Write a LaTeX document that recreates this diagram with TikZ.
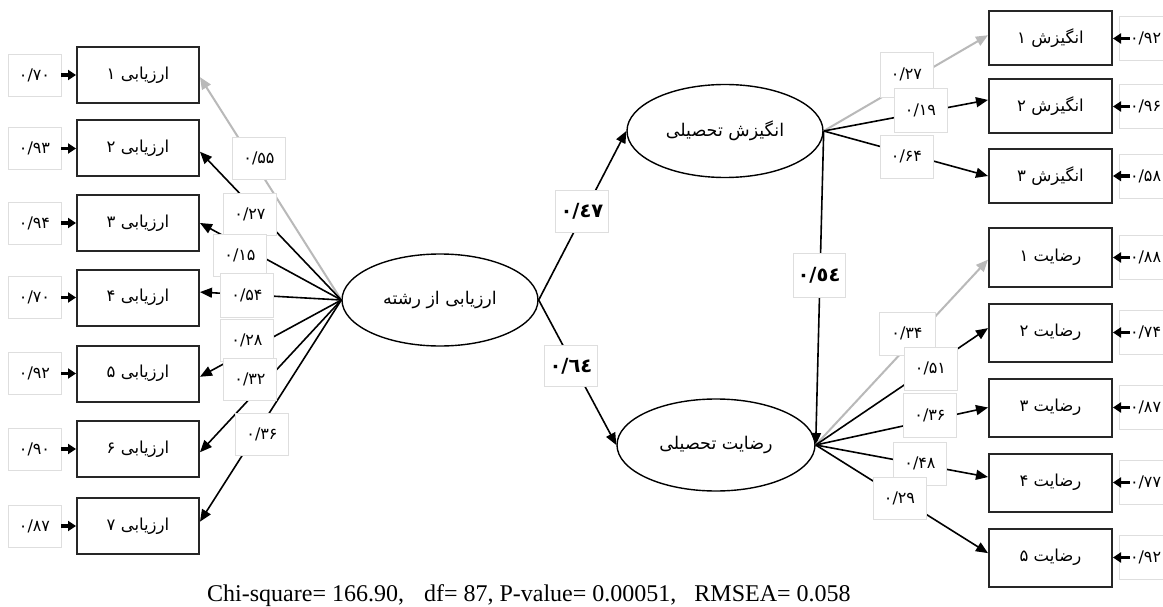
\documentclass[tikz,border=0pt]{standalone}
\usepackage{fontspec}
\setmainfont{Liberation Serif}
\newfontfamily\fa[Script=Arabic]{DejaVu Sans}
\TeXXeTstate=1
\usetikzlibrary{arrows.meta,shapes.geometric}
\definecolor{lgray}{RGB}{185,185,185}
\definecolor{lbord}{RGB}{222,222,222}
\tikzset{
 obox/.style={draw=black!85, line width=2pt, minimum width=122pt, minimum height=56pt, inner sep=0pt, font=\fa\fontsize{16.5}{18}\selectfont},
 latent/.style={ellipse, draw=black, line width=1.4pt, minimum width=196pt, minimum height=92pt, inner sep=0pt, font=\fa\fontsize{17.5}{19}\selectfont},
 lab/.style={draw=lbord, line width=0.8pt, fill=white, minimum width=53pt, minimum height=42pt, inner sep=0pt, font=\fa\fontsize{16}{18}\selectfont},
 rlab/.style={lab, minimum width=62pt, minimum height=44pt, text width=40pt, align=left},
 blab/.style={lab, font=\fa\bfseries\fontsize{19.5}{21}\selectfont},
 conn/.style={draw=black, line width=1.6pt, -{Triangle[length=12pt,width=10pt]}},
 gconn/.style={conn, draw=lgray, line width=2pt},
 earr/.style={draw=black, line width=3.5pt, -{Triangle[length=8pt,width=10pt]}},
}
\begin{document}
\begin{tikzpicture}[x=1pt,y=-1pt]
\useasboundingbox (0,0) rectangle (1163,607);
\clip (0,0) rectangle (1163,607);
\fill[white] (0,0) rectangle (1163,607);
% left indicator boxes
\node[obox] (a1) at (138,75) {\beginR ارزیابی ۱\endR};
\node[obox] (a2) at (138,148.5) {\beginR ارزیابی ۲\endR};
\node[obox] (a3) at (138,223) {\beginR ارزیابی ۳\endR};
\node[obox] (a4) at (138,297.5) {\beginR ارزیابی ۴\endR};
\node[obox] (a5) at (138,373.5) {\beginR ارزیابی ۵\endR};
\node[obox] (a6) at (138,449) {\beginR ارزیابی ۶\endR};
\node[obox] (a7) at (138,526) {\beginR ارزیابی ۷\endR};
% left error labels
\node[lab] (e1) at (34.5,75) {۰/۷۰};
\node[lab] (e2) at (34.5,148.5) {۰/۹۳};
\node[lab] (e3) at (34.5,223) {۰/۹۴};
\node[lab] (e4) at (34.5,297.5) {۰/۷۰};
\node[lab] (e5) at (34.5,373.5) {۰/۹۲};
\node[lab] (e6) at (34.5,449) {۰/۹۰};
\node[lab] (e7) at (34.5,526) {۰/۸۷};
% latent variables
\node[latent] (c) at (440,300) {\beginR ارزیابی از رشته\endR};
\node[latent, minimum height=93pt] (m) at (725,131) {\beginR انگیزش تحصیلی\endR};
\node[latent, minimum width=198pt] (s) at (716,445) {\beginR رضایت تحصیلی\endR};
% right indicator boxes
\node[obox, minimum width=123pt, minimum height=54pt] (b1) at (1050.5,38.5) {\beginR انگیزش ۱\endR};
\node[obox, minimum width=123pt, minimum height=54pt] (b2) at (1050.5,106.5) {\beginR انگیزش ۲\endR};
\node[obox, minimum width=123pt, minimum height=54pt] (b3) at (1050.5,176) {\beginR انگیزش ۳\endR};
\node[obox, minimum width=123pt, minimum height=58pt] (r1) at (1050.5,257.5) {\beginR رضایت ۱\endR};
\node[obox, minimum width=123pt, minimum height=58pt] (r2) at (1050.5,332.5) {\beginR رضایت ۲\endR};
\node[obox, minimum width=123pt, minimum height=58pt] (r3) at (1050.5,407.5) {\beginR رضایت ۳\endR};
\node[obox, minimum width=123pt, minimum height=58pt] (r4) at (1050.5,482.5) {\beginR رضایت ۴\endR};
\node[obox, minimum width=123pt, minimum height=58pt] (r5) at (1050.5,557.5) {\beginR رضایت ۵\endR};
% right error labels
\node[rlab] (f1) at (1150,38.5) {۰/۹۲};
\node[rlab] (f2) at (1150,106.5) {۰/۹۶};
\node[rlab] (f3) at (1150,176) {۰/۵۸};
\node[rlab] (f4) at (1150,257.5) {۰/۸۸};
\node[rlab] (f5) at (1150,332.5) {۰/۷۴};
\node[rlab] (f6) at (1150,407.5) {۰/۸۷};
\node[rlab] (f7) at (1150,482.5) {۰/۷۷};
\node[rlab] (f8) at (1150,557.5) {۰/۹۲};
% connectors: left
\draw[gconn] (c.west) -- (a1.358);
\draw[conn] (c.west) -- (a2.357);
\draw[conn] (c.west) -- (a3.east);
\draw[conn] (c.west) -- (a4.5);
\draw[conn] (c.west) -- (a5.357);
\draw[conn] (c.west) -- (a6.357);
\draw[conn] (c.west) -- (a7.4);
% structural
\draw[conn] (c.east) -- (m.west);
\draw[conn] (c.east) -- (s.west);
\draw[conn] (m.east) -- (s.east);
% right
\draw[gconn] (m.east) -- (b1.177);
\draw[conn] (m.east) -- (b2.174);
\draw[conn] (m.east) -- (b3.west);
\draw[gconn] (s.east) -- (r1.182);
\draw[conn] (s.east) -- (r2.176);
\draw[conn] (s.east) -- (r3.west);
\draw[conn] (s.east) -- (r4.175);
\draw[conn] (s.east) -- (r5.176);
% error arrows
\draw[earr] (e1.east) -- (a1.west);
\draw[earr] (e2.east) -- (a2.west);
\draw[earr] (e3.east) -- (a3.west);
\draw[earr] (e4.east) -- (a4.west);
\draw[earr] (e5.east) -- (a5.west);
\draw[earr] (e6.east) -- (a6.west);
\draw[earr] (e7.east) -- (a7.west);
\draw[earr] ([xshift=11pt]f1.west) -- (b1.east);
\draw[earr] ([xshift=11pt]f2.west) -- (b2.east);
\draw[earr] ([xshift=11pt]f3.west) -- (b3.east);
\draw[earr] ([xshift=11pt]f4.west) -- (r1.east);
\draw[earr] ([xshift=11pt]f5.west) -- (r2.east);
\draw[earr] ([xshift=11pt]f6.west) -- (r3.east);
\draw[earr] ([xshift=11pt]f7.west) -- (r4.east);
\draw[earr] ([xshift=11pt]f8.west) -- (r5.east);
% loading labels left
\node[lab] (l1) at (259,158) {۰/۵۵};
\node[lab] (l2) at (250,214) {۰/۲۷};
\node[lab] (l3) at (240,255) {۰/۱۵};
\node[lab, minimum height=44pt] (l4) at (247,295) {۰/۵۴};
\node[lab] (l5) at (247,340) {۰/۲۸};
\node[lab] (l6) at (250,379) {۰/۳۲};
\node[lab] (l7) at (262,434) {۰/۳۶};
% structural labels
\node[blab] (p1) at (582,211) {٠/٤٧};
\node[blab, minimum height=41pt] (p2) at (571,366) {٠/٦٤};
\node[blab, minimum width=52pt, minimum height=44pt] (p3) at (819,275) {٠/٥٤};
% loading labels right
\node[lab, minimum height=45pt] (q1) at (906.5,74.5) {۰/۲۷};
\node[lab, minimum height=44pt] (q2) at (920.5,110) {۰/۱۹};
\node[lab, minimum height=43pt] (q3) at (906.5,156.5) {۰/۶۴};
\node[lab, minimum width=56pt, minimum height=43pt] (t1) at (907,333.5) {۰/۳۴};
\node[lab, minimum height=43pt] (t2) at (930.5,368.5) {۰/۵۱};
\node[lab, minimum height=44pt] (t3) at (930,415) {۰/۳۶};
\node[lab, minimum height=43pt] (t4) at (920,463.5) {۰/۴۸};
\node[lab, minimum height=42pt] (t5) at (899.5,498) {۰/۲۹};
% fit statistics
\node[anchor=base west, inner sep=0pt, font=\fontsize{24}{26}\selectfont] (fit) at (207,601) {Chi-square= 166.90,\hspace{20pt}df= 87, P-value= 0.00051,\hspace{18pt}RMSEA= 0.058};
\end{tikzpicture}
\end{document}
